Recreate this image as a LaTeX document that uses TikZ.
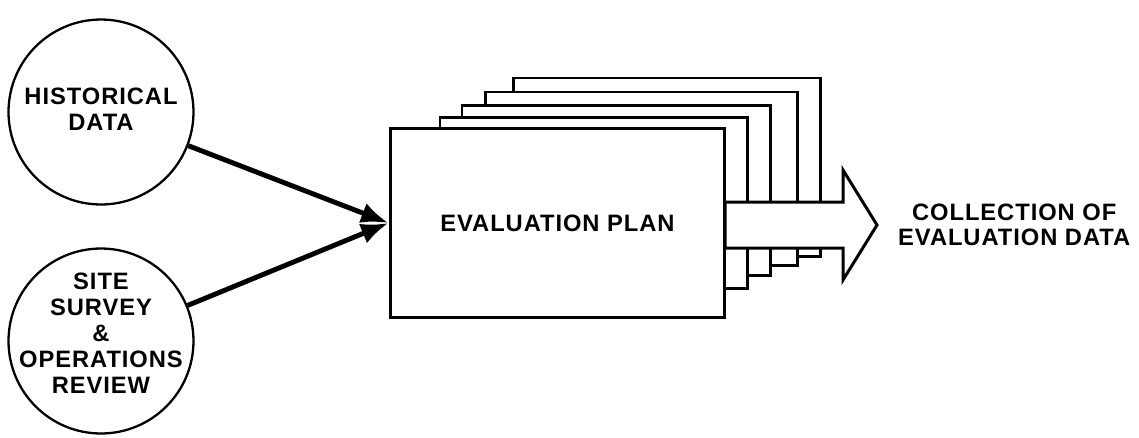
\documentclass[tikz,border=0pt]{standalone}
\usepackage{fontspec}
\setmainfont{Liberation Sans}[LetterSpace=4]
\usetikzlibrary{arrows.meta,positioning}
\tikzstyle{Source} = [draw, circle, line width=1.3pt, minimum size=3.7cm, inner sep=0pt]
\tikzstyle{Inside} = [align=center, font=\bfseries\fontsize{13.5}{14.8}\selectfont]
\tikzstyle{Plan} = [draw, rectangle, fill=white, line width=1.7pt, minimum width=6.7cm, minimum height=3.8cm, font=\bfseries\fontsize{13.5}{15}\selectfont]
\tikzstyle{Page} = [draw, fill=white, line width=1.7pt]
\tikzstyle{Flow} = [draw, fill=white, line width=1.7pt, line join=miter]
\tikzstyle{Feed} = [line width=2.8pt, -{Latex[length=0.55cm,width=0.42cm]}]
\tikzstyle{Output} = [align=center, font=\bfseries\fontsize{13.5}{14.5}\selectfont]

\begin{document}
\begin{tikzpicture}[x=0.02cm, y=-0.02cm]
    \useasboundingbox (0,0) rectangle (1139,437);
    % pages behind the plan, back to front
    \foreach \l/\t/\r/\b in {513/78/820/256, 485/92/797/265, 462/105/770/275, 440/117/747/288}
      \draw[Page] (\l,\t) rectangle (\r,\b);
    \node[Plan]   (plan) at (557.5,223) {EVALUATION PLAN};
    \node[Source, label={[Inside, yshift=0.06cm]center:{HISTORICAL\\DATA}}] (hist) at (101,112) {};
    \node[Source, label={[Inside, yshift=0.16cm]center:{SITE\\SURVEY\\\&\\OPERATIONS\\REVIEW}}] (site) at (101,341) {};
    \draw[Feed] (hist) -- (plan.west);
    \draw[Feed] (site) -- (plan.west);
    % wide arrow out of the plan
    \coordinate (tip) at (877,225);
    \draw[Flow] (725,202) -- (843,202) -- (843,170) -- (tip) -- (843,280) -- (843,248) -- (725,248) -- cycle;
    \node[Output] (data) [right=0.3cm of tip] {COLLECTION OF\\EVALUATION DATA};
\end{tikzpicture}
\end{document}
